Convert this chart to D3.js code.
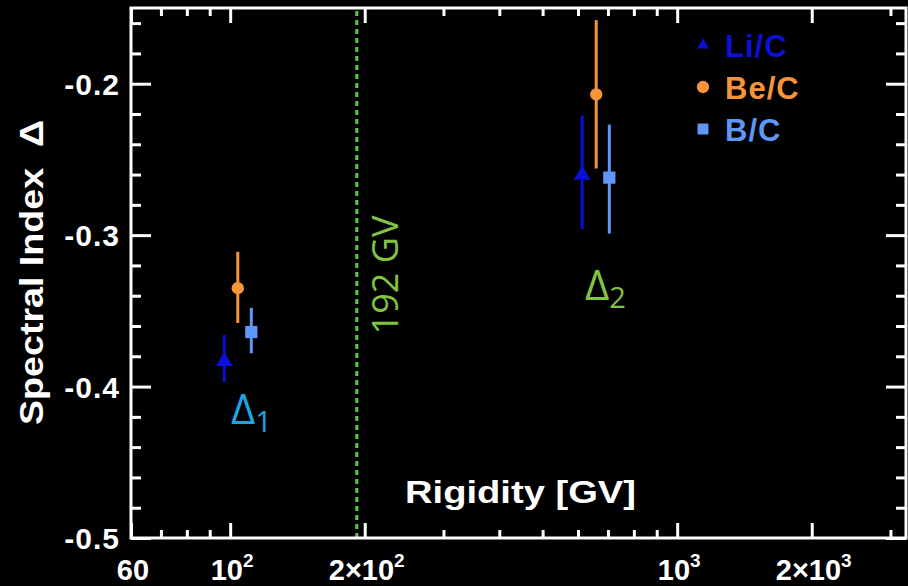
<!DOCTYPE html>
<html>
<head>
<meta charset="utf-8">
<script src="https://cdn.jsdelivr.net/npm/d3@7"></script>
<style>
  body { margin: 0; background: #000; }
  svg { display: block; background: #000; font-family: "Liberation Sans", Arial, sans-serif; }
</style>
</head>
<body>
<svg id="chart" width="908" height="586"></svg>
<script>
const width = 908;
const height = 586;
const svg = d3.select("#chart");

// data
const series = ["Li/C", "Be/C", "B/C"];
const colors = ["#0a10d6", "#f7943a", "#5f96f7"];
const symbols = [d3.symbolTriangle, d3.symbolCircle, d3.symbolSquare];
const rigidity = [[97, 613], [104, 659], [111.5, 705]];
const index = [[-0.382, -0.259], [-0.335, -0.207], [-0.364, -0.262]];
const errLow = [[-0.397, -0.296], [-0.358, -0.256], [-0.378, -0.299]];
const errHigh = [[-0.366, -0.221], [-0.311, -0.158], [-0.348, -0.227]];

const xMajor = [60, 100, 200, 1000, 2000];
const xMajorLabels = [["60", ""], ["10", "2"], ["2\u00d710", "2"], ["10", "3"], ["2\u00d710", "3"]];
const xMinor = [70, 80, 90, 300, 400, 500, 600, 700, 800, 900, 3000];
const yMajor = [-0.5, -0.4, -0.3, -0.2];
const yMinor = [-0.48, -0.46, -0.44, -0.42, -0.38, -0.36, -0.34, -0.32, -0.28, -0.26, -0.24, -0.22, -0.18, -0.16];
const breakRigidity = 192;

const margin = { left: 131, right: 2, top: 8, bottom: 48 };
const x = d3.scaleLog().domain([60, 3250]).range([margin.left, width - margin.right]);
const y = d3.scaleLinear().domain([-0.5, -0.15]).range([height - margin.bottom, margin.top]);
const x0 = margin.left, x1 = width - margin.right, y0 = height - margin.bottom, y1 = margin.top;

// break line
svg.append("line")
  .attr("x1", x(breakRigidity)).attr("x2", x(breakRigidity))
  .attr("y1", y0).attr("y2", y1)
  .attr("stroke", "#52cc42").attr("stroke-width", 3)
  .attr("stroke-dasharray", "5,4");

svg.append("text")
  .attr("transform", `translate(${x(breakRigidity) + 41}, 275) rotate(-90)`)
  .attr("text-anchor", "middle")
  .attr("fill", "#82c341")
  .attr("font-family", "Open Sans, sans-serif")
  .attr("font-size", 36)
  .text("192 GV");

// ticks (inward, mirrored)
function axis(gen, scale, values, size, transform) {
  svg.append("g")
    .attr("transform", transform)
    .call(gen(scale).tickValues(values).tickSize(size).tickFormat(""))
    .call(g => g.select(".domain").remove())
    .call(g => g.selectAll("line").attr("stroke", "#fff").attr("stroke-width", 3));
}
axis(d3.axisBottom, x, xMajor, -15, `translate(0,${y0})`);
axis(d3.axisBottom, x, xMinor, -8, `translate(0,${y0})`);
axis(d3.axisTop, x, xMajor, -15, `translate(0,${y1})`);
axis(d3.axisTop, x, xMinor, -8, `translate(0,${y1})`);
axis(d3.axisLeft, y, yMajor, -20, `translate(${x0},0)`);
axis(d3.axisLeft, y, yMinor, -10, `translate(${x0},0)`);
axis(d3.axisRight, y, yMajor, -20, `translate(${x1},0)`);
axis(d3.axisRight, y, yMinor, -10, `translate(${x1},0)`);

svg.append("rect")
  .attr("x", x0).attr("y", y1)
  .attr("width", x1 - x0).attr("height", y0 - y1)
  .attr("fill", "none").attr("stroke", "#fff").attr("stroke-width", 3);

// tick labels
svg.selectAll("text.ylab")
  .data(yMajor)
  .join("text")
  .attr("class", "ylab")
  .attr("x", x0 - 11)
  .attr("y", d => y(d) + 11)
  .attr("text-anchor", "end")
  .attr("fill", "#fff")
  .attr("font-weight", "bold")
  .attr("font-size", 30)
  .attr("letter-spacing", 1)
  .text(d => d.toFixed(1));

const xl = svg.selectAll("text.xlab")
  .data(xMajor)
  .join("text")
  .attr("class", "xlab")
  .attr("x", d => x(d) + 2)
  .attr("y", 580)
  .attr("text-anchor", "middle")
  .attr("fill", "#fff")
  .attr("font-weight", "bold")
  .attr("font-size", 29);
xl.append("tspan").text((d, i) => xMajorLabels[i][0]);
xl.append("tspan")
  .attr("dy", -13)
  .attr("font-size", 19)
  .text((d, i) => xMajorLabels[i][1]);

// axis titles
svg.append("text")
  .attr("x", 405).attr("y", 503)
  .attr("fill", "#fff")
  .attr("font-weight", "bold")
  .attr("font-size", 32)
  .attr("textLength", 231)
  .attr("lengthAdjust", "spacingAndGlyphs")
  .text("Rigidity [GV]");

svg.append("text")
  .attr("transform", "translate(43,425) rotate(-90)")
  .attr("fill", "#fff")
  .attr("font-weight", "bold")
  .attr("font-size", 33)
  .attr("textLength", 305)
  .attr("lengthAdjust", "spacingAndGlyphs")
  .attr("xml:space", "preserve")
  .text("Spectral Index  \u0394");

// error bars and markers
series.forEach((s, i) => {
  const pts = rigidity[i].map((r, j) => ({ r, v: index[i][j], lo: errLow[i][j], hi: errHigh[i][j] }));
  const g = svg.append("g");
  g.selectAll("line")
    .data(pts)
    .join("line")
    .attr("x1", d => x(d.r)).attr("x2", d => x(d.r))
    .attr("y1", d => y(d.lo)).attr("y2", d => y(d.hi))
    .attr("stroke", colors[i]).attr("stroke-width", 3);
  g.selectAll("path")
    .data(pts)
    .join("path")
    .attr("transform", d => `translate(${x(d.r)},${y(d.v) + (i === 0 ? 2 : 0)})`)
    .attr("d", d3.symbol(symbols[i], i === 2 ? 150 : 120))
    .attr("fill", colors[i]);
});

// legend
const legend = svg.append("g").attr("transform", "translate(703,45)");
series.forEach((s, i) => {
  legend.append("path")
    .attr("transform", `translate(0,${i * 42})`)
    .attr("d", d3.symbol(symbols[i], i === 0 ? 60 : 120))
    .attr("fill", colors[i]);
  legend.append("text")
    .attr("x", 22).attr("y", i * 42 + 12)
    .attr("fill", colors[i])
    .attr("font-weight", "bold")
    .attr("font-size", 31)
    .attr("letter-spacing", 1)
    .text(s);
});

// Δ labels
function deltaLabel(px, py, sub, color) {
  const t = svg.append("text")
    .attr("x", px).attr("y", py)
    .attr("fill", color)
    .attr("font-family", "Open Sans, sans-serif")
    .attr("font-size", 42);
  t.append("tspan").text("\u0394");
  t.append("tspan").attr("dy", 8).attr("font-size", 29).text(sub);
}
deltaLabel(231, 424, "1", "#1ba6e3");
deltaLabel(585, 300, "2", "#83c443");
</script>
</body>
</html>
